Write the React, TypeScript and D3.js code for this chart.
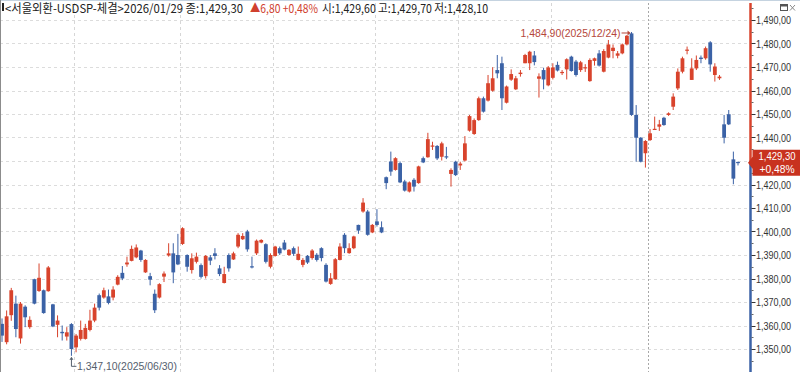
import React from 'react';
import * as d3 from 'd3';

const opens = [
  1360.7, 1352.9, 1364.4, 1369.3, 1354.5, 1368.0, 1359.3, 1379.7, 1374.7, 1375.0,
  1374.6, 1369.0, 1360.3, 1357.3, 1355.3, 1360.6, 1350.7, 1354.3, 1354.3, 1358.1,
  1362.1, 1372.9, 1371.9, 1372.4, 1371.9, 1377.4, 1382.4, 1386.0, 1387.5, 1389.0,
  1391.9, 1382.6, 1381.0, 1373.5, 1371.9, 1380.8, 1389.8, 1390.7, 1390.0, 1394.7,
  1390.0, 1383.6, 1387.1, 1385.7, 1381.0, 1389.0, 1390.7, 1384.3, 1378.1, 1390.0,
  1388.1, 1393.6, 1396.7, 1400.0, 1385.2, 1390.7, 1395.3, 1394.6, 1385.0, 1389.6,
  1392.9, 1395.3, 1390.0, 1392.9, 1387.9, 1385.8, 1389.6, 1388.7, 1390.1, 1392.9,
  1385.8, 1377.7, 1379.7, 1387.9, 1398.6, 1390.8, 1392.9, 1402.8, 1408.5, 1408.5,
  1399.6, 1404.3, 1401.8, 1423.1, 1429.8, 1426.2, 1429.1, 1421.3, 1417.0, 1422.0,
  1420.6, 1431.2, 1431.6, 1436.2, 1436.4, 1431.8, 1432.0, 1424.5, 1429.7, 1428.1,
  1430.2, 1442.9, 1441.5, 1447.4, 1456.7, 1455.7, 1459.9, 1468.7, 1471.6, 1454.8,
  1464.6, 1460.5, 1467.0, 1471.6, 1471.6, 1474.9, 1465.0, 1468.7, 1462.2, 1465.4,
  1470.9, 1467.5, 1469.0, 1474.4, 1472.3, 1468.7, 1469.5, 1464.0, 1472.6, 1475.8,
  1468.0, 1474.0, 1476.8, 1474.8, 1475.8, 1479.6, 1484.3, 1449.6, 1439.9, 1433.3,
  1438.9, 1443.3, 1444.6, 1448.4, 1449.6, 1453.1, 1460.9, 1468.0, 1477.0, 1464.5,
  1469.4, 1474.0, 1473.7, 1480.5, 1466.6, 1465.2, 1445.6, 1449.9, 1430.7, 1429.6,
];
const highs = [
  1363.0, 1366.4, 1376.0, 1372.7, 1370.0, 1368.6, 1363.9, 1379.9, 1386.4, 1375.3,
  1385.3, 1369.2, 1364.3, 1360.0, 1359.3, 1361.0, 1356.4, 1362.1, 1360.7, 1366.7,
  1369.3, 1373.6, 1376.1, 1375.3, 1376.7, 1381.4, 1385.3, 1389.3, 1394.0, 1394.5,
  1392.2, 1388.2, 1382.4, 1375.3, 1378.0, 1383.0, 1395.0, 1395.0, 1399.0, 1401.8,
  1390.3, 1390.7, 1391.0, 1386.4, 1390.0, 1390.0, 1392.9, 1385.7, 1385.0, 1390.7,
  1391.4, 1399.3, 1399.3, 1400.7, 1389.3, 1396.6, 1396.7, 1395.0, 1390.7, 1393.9,
  1393.6, 1396.4, 1392.5, 1393.6, 1393.6, 1388.7, 1390.0, 1392.5, 1390.8, 1393.3,
  1386.5, 1382.3, 1388.7, 1395.0, 1399.3, 1395.0, 1398.2, 1402.9, 1414.2, 1409.2,
  1403.2, 1409.5, 1404.3, 1423.4, 1434.0, 1431.6, 1429.8, 1422.0, 1421.3, 1422.7,
  1428.0, 1431.9, 1442.0, 1438.2, 1436.8, 1438.2, 1436.0, 1426.9, 1430.1, 1429.7,
  1440.6, 1449.6, 1448.1, 1457.4, 1457.4, 1466.6, 1469.9, 1475.1, 1474.4, 1462.1,
  1469.0, 1466.2, 1468.7, 1475.6, 1476.9, 1476.8, 1467.3, 1469.7, 1470.4, 1471.6,
  1472.3, 1468.7, 1473.7, 1474.8, 1473.0, 1472.6, 1471.2, 1473.7, 1474.0, 1477.2,
  1477.6, 1481.5, 1479.6, 1476.8, 1480.0, 1483.6, 1484.9, 1453.8, 1440.2, 1438.9,
  1443.6, 1448.9, 1447.5, 1448.8, 1450.7, 1458.8, 1469.4, 1474.4, 1478.7, 1473.7,
  1474.9, 1474.9, 1478.7, 1481.0, 1471.6, 1466.6, 1449.6, 1451.7, 1434.0, 1429.7,
];
const lows = [
  1353.0, 1352.0, 1362.0, 1355.0, 1352.3, 1359.3, 1358.6, 1369.0, 1374.3, 1365.0,
  1374.4, 1359.3, 1355.0, 1353.6, 1353.6, 1347.1, 1348.6, 1353.6, 1354.0, 1357.5,
  1361.4, 1366.4, 1371.4, 1369.0, 1370.7, 1377.1, 1379.3, 1385.0, 1387.3, 1388.6,
  1387.1, 1382.4, 1377.1, 1365.3, 1371.5, 1378.5, 1389.3, 1378.0, 1385.7, 1394.3,
  1382.9, 1382.1, 1386.4, 1380.0, 1380.0, 1385.7, 1388.1, 1381.0, 1377.9, 1382.9,
  1387.9, 1392.9, 1396.4, 1391.4, 1384.3, 1390.0, 1395.0, 1386.4, 1384.3, 1389.3,
  1390.0, 1392.0, 1389.6, 1389.6, 1387.7, 1384.8, 1386.2, 1388.0, 1387.2, 1387.3,
  1378.3, 1377.3, 1379.4, 1387.7, 1390.8, 1390.5, 1392.5, 1399.0, 1408.0, 1398.2,
  1399.3, 1402.1, 1399.3, 1418.0, 1423.7, 1425.9, 1420.6, 1417.0, 1416.6, 1417.0,
  1420.3, 1429.1, 1431.4, 1434.7, 1430.4, 1430.2, 1430.8, 1419.1, 1423.6, 1426.2,
  1429.8, 1442.5, 1441.1, 1447.1, 1450.6, 1455.3, 1459.5, 1465.2, 1451.7, 1454.5,
  1464.1, 1460.2, 1465.9, 1471.6, 1468.7, 1470.7, 1457.0, 1460.5, 1461.8, 1464.7,
  1468.1, 1466.6, 1464.7, 1468.0, 1465.9, 1467.9, 1467.9, 1463.7, 1470.6, 1470.2,
  1467.7, 1473.7, 1473.7, 1473.7, 1475.4, 1479.2, 1449.2, 1429.7, 1429.4, 1427.2,
  1438.5, 1443.2, 1442.8, 1445.0, 1449.2, 1451.7, 1460.2, 1467.3, 1475.4, 1464.5,
  1468.7, 1471.6, 1473.1, 1468.0, 1463.8, 1464.5, 1437.5, 1445.3, 1420.1, 1428.1,
];
const closes = [
  1355.7, 1363.9, 1375.0, 1358.5, 1369.3, 1363.5, 1362.4, 1369.3, 1380.3, 1365.3,
  1384.7, 1359.6, 1362.1, 1356.7, 1357.1, 1350.0, 1355.7, 1358.1, 1359.0, 1362.1,
  1367.6, 1367.6, 1375.0, 1369.6, 1375.3, 1380.7, 1380.0, 1386.8, 1392.6, 1393.2,
  1387.9, 1387.9, 1379.5, 1366.5, 1377.6, 1382.1, 1390.7, 1382.6, 1386.0, 1401.4,
  1385.0, 1388.6, 1389.3, 1380.7, 1389.6, 1387.6, 1389.6, 1381.9, 1381.9, 1384.3,
  1390.7, 1398.6, 1398.1, 1392.4, 1384.9, 1396.1, 1396.4, 1387.1, 1390.0, 1393.6,
  1390.7, 1392.3, 1392.2, 1390.5, 1390.5, 1387.9, 1386.8, 1391.9, 1387.9, 1388.7,
  1378.7, 1380.1, 1388.2, 1393.6, 1392.9, 1392.9, 1397.9, 1400.4, 1412.3, 1398.6,
  1402.8, 1402.8, 1399.6, 1420.6, 1425.5, 1431.2, 1420.9, 1417.4, 1420.9, 1419.1,
  1427.7, 1429.4, 1439.3, 1436.6, 1431.1, 1437.5, 1431.6, 1426.2, 1424.0, 1428.9,
  1437.5, 1449.1, 1447.4, 1456.7, 1451.0, 1463.1, 1465.2, 1467.3, 1456.7, 1461.7,
  1467.0, 1465.2, 1467.6, 1475.1, 1476.5, 1472.1, 1466.0, 1464.7, 1469.8, 1469.8,
  1468.5, 1467.9, 1473.3, 1468.3, 1466.6, 1472.0, 1469.9, 1473.0, 1473.7, 1470.6,
  1476.8, 1479.6, 1478.2, 1475.8, 1479.6, 1483.3, 1449.6, 1439.9, 1429.7, 1438.5,
  1441.8, 1443.7, 1445.6, 1445.3, 1450.3, 1457.4, 1468.0, 1473.7, 1477.4, 1469.4,
  1473.0, 1473.4, 1478.0, 1471.1, 1470.2, 1465.9, 1439.9, 1445.6, 1422.5, 1429.3,
];

const monthStartIdx = [16, 39, 59, 81, 99, 119, 140];
const yearStartIdx = 140;
const yTicks = d3.range(1350, 1491, 10);
const yMinorTicks = d3.range(1345, 1496, 10);

const headerMain = '<서울외환-USDSP-체결>2026/01/29 종:1,429,30';
const headerChange = '▲6,80 +0,48%';
const headerRest = '시:1,429,60 고:1,429,70 저:1,428,10';
const lastPrice = 1429.3;
const lastPctLabel = '+0,48%';
const maxAnnot = { idx: 136, value: 1484.9, date: '2025/12/24' };
const minAnnot = { idx: 15, value: 1347.1, date: '2025/06/30' };

const RED = '#d8432c';
const BLUE = '#3b62a6';

const fmt = (v: number) => d3.format(',.2f')(v).replace('.', ',');

export default function App() {
  const W = 800;
  const H = 372;
  const n = opens.length;
  const x = d3.scaleLinear().domain([0, n - 1]).range([2, 738]);
  const step = x(1) - x(0);
  const y = d3.scaleLinear().domain([1350, 1490]).range([349, 20]);
  const axisX = 750.5;
  const yLast = y(lastPrice);
  const boxHalf = 13;
  const visibleTicks = yTicks.filter((t) => Math.abs(y(t) - yLast) > boxHalf + 4);

  const maxX = x(maxAnnot.idx);
  const maxY = y(maxAnnot.value);
  const minX = x(minAnnot.idx);
  const minY = y(minAnnot.value);

  return (
    <svg
      width={W}
      height={H}
      style={{ position: 'absolute', left: 0, top: 0, background: '#fff' }}
      fontFamily="'Liberation Sans', Arial, sans-serif"
    >
      <rect x={0} y={0} width={W} height={H} fill="#fff" />
      {/* horizontal grid */}
      {yTicks.map((t) => (
        <line
          key={'hg' + t}
          x1={0}
          x2={axisX - 1}
          y1={Math.round(y(t)) + 0.5}
          y2={Math.round(y(t)) + 0.5}
          stroke="#dcdcdc"
          strokeDasharray="3,3"
        />
      ))}
      {/* vertical grid (month starts) */}
      {monthStartIdx.map((i) => {
        const vx = Math.round(x(i) - step / 2) + 0.5;
        const isYear = i === yearStartIdx;
        return (
          <line
            key={'vg' + i}
            x1={vx}
            x2={vx}
            y1={3}
            y2={H}
            stroke={isYear ? '#a8a8a8' : '#d6d6d6'}
            strokeDasharray={isYear ? '2,2' : '3,3'}
          />
        );
      })}
      {/* candles */}
      {opens.map((o, i) => {
        const c = closes[i];
        const col = c >= o ? RED : BLUE;
        const cx = x(i);
        const top = y(Math.max(o, c));
        const bot = y(Math.min(o, c));
        return (
          <g key={'c' + i}>
            <line x1={cx} x2={cx} y1={y(highs[i])} y2={y(lows[i])} stroke={col} strokeWidth={1} />
            <rect x={cx - 1.9} y={top} width={3.8} height={Math.max(1.2, bot - top)} fill={col} />
          </g>
        );
      })}
      {/* max annotation */}
      <text
        x={maxX - 11}
        y={maxY + 5}
        fontSize={11}
        fill="#b5473a"
        textAnchor="end"
        textLength={100}
        lengthAdjust="spacingAndGlyphs"
      >
        {`${fmt(maxAnnot.value)}(${maxAnnot.date})`}
      </text>
      <line x1={maxX - 10} x2={maxX - 2} y1={maxY + 1} y2={maxY + 1} stroke="#b5473a" strokeWidth={1} />
      <path d={`M${maxX - 1},${maxY + 1} L${maxX - 4},${maxY - 1.5} L${maxX - 4},${maxY + 3.5} Z`} fill="#b5473a" />
      {/* min annotation */}
      <path d={`M${minX},${minY + 1} L${minX - 2},${minY + 4} L${minX + 2},${minY + 4} Z`} fill="#55606e" />
      <path d={`M${minX},${minY + 3} L${minX},${minY + 10.5} L${minX + 5},${minY + 10.5}`} stroke="#55606e" fill="none" strokeWidth={1} />
      <text
        x={minX + 5.5}
        y={minY + 14.5}
        fontSize={11}
        fill="#55606e"
        textLength={100}
        lengthAdjust="spacingAndGlyphs"
      >
        {`${fmt(minAnnot.value)}(${minAnnot.date})`}
      </text>
      {/* right axis */}
      <rect x={axisX + 1} y={0} width={W - axisX} height={H} fill="#fff" />
      <line x1={axisX} x2={axisX} y1={3} y2={yLast} stroke="#d8432c" strokeWidth={2.5} />
      <line x1={axisX} x2={axisX} y1={yLast} y2={H} stroke="#3b62a6" strokeWidth={2.5} />
      {yMinorTicks.map((t) => (
        <line
          key={'mt' + t}
          x1={axisX + 1}
          x2={axisX + 3}
          y1={Math.round(y(t)) + 0.5}
          y2={Math.round(y(t)) + 0.5}
          stroke="#666"
        />
      ))}
      {visibleTicks.map((t) => (
        <g key={'yt' + t}>
          <line
            x1={axisX + 1}
            x2={axisX + 5}
            y1={Math.round(y(t)) + 0.5}
            y2={Math.round(y(t)) + 0.5}
            stroke="#333"
          />
          <text
            x={axisX + 5.5}
            y={y(t) + 4}
            fontSize={11}
            fill="#333"
            textLength={35}
            lengthAdjust="spacingAndGlyphs"
          >
            {fmt(t)}
          </text>
        </g>
      ))}
      {/* last price box */}
      <path
        d={`M${axisX - 2.5},${yLast} L${axisX + 2},${yLast - 6} L${axisX + 2},${yLast - boxHalf} L${W},${yLast - boxHalf} L${W},${yLast + boxHalf} L${axisX + 2},${yLast + boxHalf} L${axisX + 2},${yLast + 6} Z`}
        fill="#c8321f"
      />
      <text x={777} y={yLast - 3} fontSize={10} fill="#fff" textAnchor="middle" textLength={37} lengthAdjust="spacingAndGlyphs">
        {fmt(lastPrice)}
      </text>
      <text x={777} y={yLast + 10} fontSize={10} fill="#fff" textAnchor="middle" textLength={35} lengthAdjust="spacingAndGlyphs">
        {lastPctLabel}
      </text>
      {/* window icons */}
      <rect x={780.5} y={4.5} width={7} height={6} fill="#fff" stroke="#555" />
      <rect x={780.5} y={4.5} width={7} height={2} fill="#555" />
      <line x1={790} x2={795} y1={5} y2={10.5} stroke="#888" />
      <line x1={795} x2={790} y1={5} y2={10.5} stroke="#888" />
      {/* header */}
      <rect x={2} y={3} width={2} height={8} fill="#222" />
      <text
        x={5}
        y={12.5}
        fontSize={12}
        fill="#222"
        fontFamily="'Noto Sans CJK KR', sans-serif"
        textLength={238}
        lengthAdjust="spacingAndGlyphs"
      >
        {headerMain}
      </text>
      <text
        x={250}
        y={12.5}
        fontSize={12}
        fill="#d0402e"
        fontFamily="'Noto Sans CJK KR', sans-serif"
        textLength={68}
        lengthAdjust="spacingAndGlyphs"
      >
        {headerChange}
      </text>
      <text
        x={322}
        y={12.5}
        fontSize={12}
        fill="#222"
        fontFamily="'Noto Sans CJK KR', sans-serif"
        textLength={166}
        lengthAdjust="spacingAndGlyphs"
      >
        {headerRest}
      </text>
      {/* borders */}
      <rect x={0} y={0} width={W} height={1} fill="#c5d3e0" />
      <line x1={0.5} x2={0.5} y1={0} y2={H} stroke="#8c8c8c" />
    </svg>
  );
}
